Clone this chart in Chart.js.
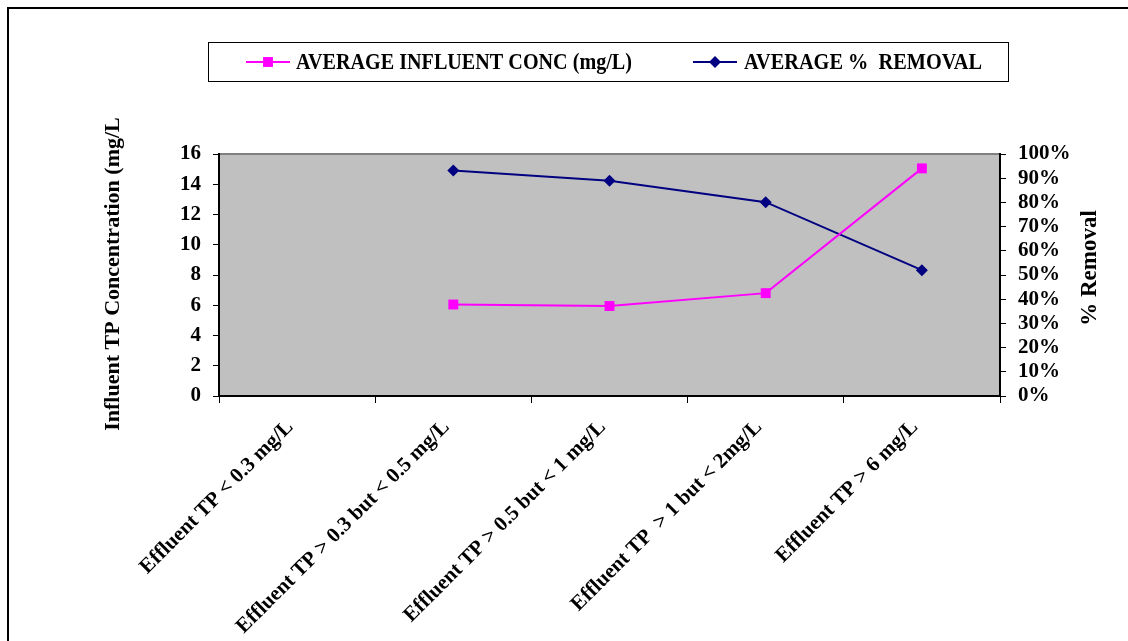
<!DOCTYPE html>
<html>
<head>
<meta charset="utf-8">
<script src="https://cdn.jsdelivr.net/npm/chart.js@4.4.0/dist/chart.umd.min.js"></script>
<style>
  html, body { margin: 0; padding: 0; background: #fff; }
  #wrap { position: relative; width: 1128px; height: 641px; }
  #frame { position: absolute; left: 7px; top: 7px; right: 0; bottom: 0; border-left: 2px solid #000; border-top: 2px solid #000; pointer-events: none; }
</style>
</head>
<body>
<div id="wrap">
  <canvas id="grafico" width="1128" height="641"></canvas>
  <div id="frame"></div>
</div>
<script>
// categorias do eixo x
const categorias = [
    'Effluent TP < 0.3 mg/L',
    'Effluent TP > 0.3 but < 0.5 mg/L',
    'Effluent TP > 0.5 but < 1 mg/L',
    'Effluent TP  > 1 but < 2mg/L',
    'Effluent TP > 6 mg/L'
];

// séries
const influente = [null, 6.05, 5.95, 6.8, 15.05];   // mg/L
const remocao = [null, 93.2, 88.9, 80.1, 52.0];     // %

const nomeInfluente = 'AVERAGE INFLUENT CONC (mg/L)';
const nomeRemocao = 'AVERAGE %  REMOVAL';

const tituloEsq = 'Influent TP Concentration (mg/L';
const tituloDir = '% Removal';

const fonte = '"Liberation Serif", "Times New Roman", serif';

// fundo cinza da área do gráfico
const fundoPlot = {
    id: 'fundoPlot',
    beforeDraw(chart) {
        const { ctx, chartArea: a } = chart;
        ctx.save();
        ctx.fillStyle = '#C0C0C0';
        ctx.fillRect(a.left, a.top, a.right - a.left, a.bottom - a.top);
        ctx.strokeStyle = '#808080';
        ctx.lineWidth = 2;
        ctx.beginPath();
        ctx.moveTo(a.left, a.top);
        ctx.lineTo(a.right, a.top);
        ctx.stroke();
        ctx.restore();
    }
};

// títulos dos eixos e legenda
const extras = {
    id: 'extras',
    afterDraw(chart) {
        const ctx = chart.ctx;
        ctx.save();
        ctx.fillStyle = '#000';
        ctx.font = 'bold 22px ' + fonte;
        ctx.textAlign = 'center';
        ctx.textBaseline = 'middle';

        ctx.save();
        ctx.translate(113, 274);
        ctx.rotate(-Math.PI / 2);
        ctx.fillText(tituloEsq, 0, 0);
        ctx.restore();

        ctx.save();
        ctx.translate(1090, 268);
        ctx.rotate(-Math.PI / 2);
        ctx.font = 'bold 23px ' + fonte;
        ctx.fillText(tituloDir, 0, 0);
        ctx.restore();

        // caixa da legenda
        ctx.strokeStyle = '#000';
        ctx.lineWidth = 1;
        ctx.strokeRect(208.5, 42.5, 800, 39);

        const itens = [
            { texto: nomeInfluente, cor: '#FF00FF', estilo: 'rect', x0: 246, tx: 296, w: 336 },
            { texto: nomeRemocao, cor: '#000080', estilo: 'rectRot', x0: 693, tx: 744, w: 238 }
        ];
        const yl = 62;
        itens.forEach(it => {
            ctx.strokeStyle = it.cor;
            ctx.lineWidth = 2;
            ctx.beginPath();
            ctx.moveTo(it.x0, yl);
            ctx.lineTo(it.x0 + 44, yl);
            ctx.stroke();
            ctx.fillStyle = it.cor;
            Chart.helpers.drawPoint(ctx, { pointStyle: it.estilo, radius: it.estilo === 'rect' ? 7 : 6, rotation: 0, borderWidth: 0 }, it.x0 + 22, yl);
            ctx.fillStyle = '#000';
            ctx.font = 'bold 19px ' + fonte;
            ctx.textAlign = 'left';
            ctx.textBaseline = 'middle';
            const larg = ctx.measureText(it.texto).width;
            ctx.save();
            ctx.translate(it.tx, yl + 1);
            ctx.scale(it.w / larg, 1.2);
            ctx.fillText(it.texto, 0, 0);
            ctx.restore();
        });
        ctx.restore();
    }
};

const ctx = document.getElementById('grafico').getContext('2d');

const grafico = new Chart(ctx, {
    type: 'line',
    data: {
        labels: categorias,
        datasets: [
            {
                label: nomeInfluente,
                data: influente,
                yAxisID: 'y',
                borderColor: '#FF00FF',
                backgroundColor: '#FF00FF',
                borderWidth: 2,
                pointStyle: 'rect',
                pointRadius: 7,
                pointBorderWidth: 0,
                tension: 0
            },
            {
                label: nomeRemocao,
                data: remocao,
                yAxisID: 'y1',
                borderColor: '#000080',
                backgroundColor: '#000080',
                borderWidth: 2,
                pointStyle: 'rectRot',
                pointRadius: 6,
                pointBorderWidth: 0,
                tension: 0
            }
        ]
    },
    options: {
        responsive: false,
        animation: false,
        layout: { padding: { top: 154, left: 0, right: 0, bottom: 0 } },
        plugins: {
            legend: { display: false },
            tooltip: { enabled: false }
        },
        scales: {
            x: {
                offset: true,
                grid: { offset: true, drawOnChartArea: false, tickLength: 7, color: '#000' },
                border: { color: '#000', width: 2 },
                ticks: {
                    color: '#000',
                    font: { family: fonte, size: 21, weight: 'bold' },
                    minRotation: 45,
                    maxRotation: 45,
                    autoSkip: false,
                    padding: 12,
                    labelOffset: -7
                },
                afterFit(s) { s.height = 245; }
            },
            y: {
                position: 'left',
                min: 0,
                max: 16,
                grid: { drawOnChartArea: false, tickLength: 6, color: '#000' },
                border: { color: '#000', width: 2 },
                ticks: {
                    stepSize: 2,
                    color: '#000',
                    autoSkip: false,
                    font: { family: fonte, size: 21, weight: 'bold' },
                    padding: 12
                },
                afterFit(s) { s.width = 219; }
            },
            y1: {
                position: 'right',
                min: 0,
                max: 100,
                grid: { drawOnChartArea: false, tickLength: 6, color: '#000' },
                border: { color: '#000', width: 2 },
                ticks: {
                    stepSize: 10,
                    color: '#000',
                    autoSkip: false,
                    font: { family: fonte, size: 21, weight: 'bold' },
                    padding: 12,
                    callback: v => v + '%'
                },
                afterFit(s) { s.width = 128; }
            }
        }
    },
    plugins: [fundoPlot, extras]
});
</script>
</body>
</html>
